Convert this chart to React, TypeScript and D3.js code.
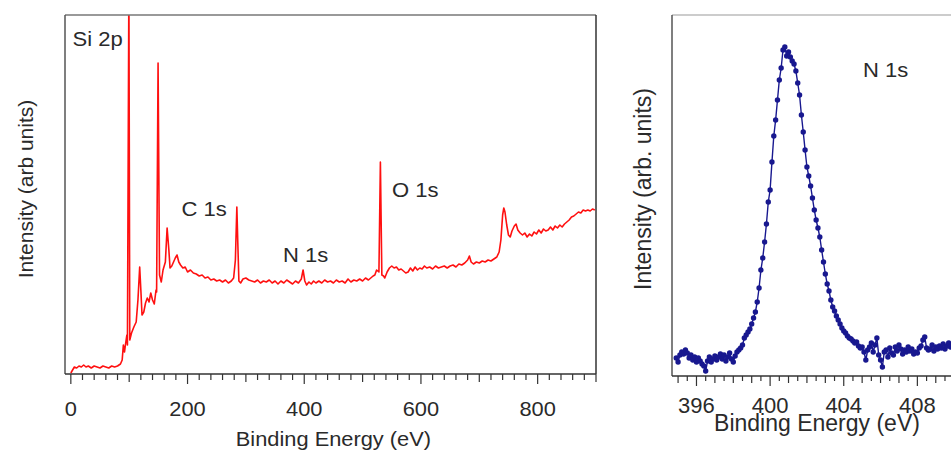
import React from "react";
import * as d3 from "d3";

// ---------- Survey spectrum (left) ----------
const SURVEY_E = [0,3,6,10,14,18,22,26,30,35,40,45,50,55,60,65,70,75,80,85,88,90,92,94,96,97,99.5,101,104,108,112,115,118,120,122,125,128,131,134,137,140,143,146,147,149.5,152,155,158,162,165,168,170,173,176,179,182,185,188,192,196,200,205,210,215,220,225,230,235,240,245,250,255,260,265,270,275,279,282,284.5,286,288,291,295,300,305,310,315,320,325,330,335,340,345,350,355,360,365,370,375,380,385,390,395,398,401,404,408,412,416,420,425,430,435,440,445,450,455,460,465,470,475,480,485,490,495,500,505,510,514,518,521,524,528,530.5,533,536,538,542,546,550,554,558,562,566,570,574,578,582,586,590,594,598,602,606,610,615,620,625,630,635,640,645,650,655,660,665,670,675,680,683,686,690,695,700,705,710,715,720,725,730,734,737,740,742,744,747,750,753,756,760,763,766,770,774,778,782,786,790,794,798,802,806,810,814,818,822,826,830,834,838,842,846,850,854,858,862,866,870,874,878,882,886,890,894,898];
const SURVEY_I = [1,4,7,6,8,7,9,7,8,6,8,7,6,8,7,6,8,7,8,10,14,29,22,31,39,29,394,34,41,47,52,74,107,84,59,62,71,76,72,81,74,70,84,82,311,99,92,104,112,146,124,106,108,112,116,119,112,109,106,107,102,104,101,100,98,99,96,97,94,95,93,94,92,94,91,93,96,114,167,134,93,91,95,96,94,93,92,94,91,93,92,94,91,93,90,93,91,94,92,90,93,91,95,104,93,89,92,90,93,91,93,91,94,92,93,91,94,92,93,91,95,92,94,93,95,93,96,94,96,98,99,104,102,212,99,98,96,102,106,108,106,107,104,105,103,101,102,106,103,107,104,106,105,108,106,107,105,108,106,107,108,106,108,109,107,110,109,111,114,118,112,110,112,111,113,112,114,113,115,117,122,134,159,166,162,149,139,137,143,148,150,144,141,139,141,137,140,138,142,140,144,141,145,143,144,147,144,148,146,149,147,150,152,154,157,158,160,162,161,164,163,164,163,165,164];
const SURVEY_TICKS = [0, 200, 400, 600, 800];
const SURVEY_PEAKS = ["Si 2p", "C 1s", "N 1s", "O 1s"];

// ---------- N 1s high-resolution spectrum (right) ----------
const N1S_START = 394.9;
const N1S_STEP = 0.1;
const N1S_I = [180,140,210,240,220,260,230,180,210,160,190,140,180,150,120,100,50,150,190,140,170,200,160,190,220,170,210,150,190,230,170,140,200,240,260,280,310,380,410,440,470,520,580,640,740,880,1060,1180,1340,1520,1740,1860,2140,2400,2560,2760,2960,3080,3260,3290,3200,3240,3190,3150,3120,3050,2930,2810,2610,2440,2260,2090,2000,1900,1780,1660,1560,1480,1390,1260,1140,1020,920,850,760,690,650,600,560,520,480,450,430,400,380,370,350,330,340,300,280,290,240,160,260,290,330,240,310,380,210,160,90,240,260,190,280,230,210,290,250,310,270,220,260,240,290,250,270,220,240,230,280,300,360,390,280,260,270,310,250,290,270,300,280,320,270,300,330,290,310,320,290,330];
const N1S_TICKS = [396, 400, 404, 408];

const FONT = "'Liberation Sans', Arial, Helvetica, sans-serif";

function T({ x, y, size, sx = 1, anchor = "start", rot = 0, children }: any) {
  const tr = `translate(${x},${y}) rotate(${rot}) scale(${sx},1)`;
  return (
    <text transform={tr} fontSize={size} textAnchor={anchor} fontFamily={FONT} fill="#2a2a2a">
      {children}
    </text>
  );
}

export default function App() {
  // Left panel geometry
  const L = { left: 65, right: 596, top: 15, bottom: 374 };
  const xs = d3.scaleLinear().domain([-10, 900]).range([L.left, L.right]);
  const ys = d3.scaleLinear().domain([0, 359]).range([L.bottom, L.top]);
  const survey = SURVEY_E.map((e, i) => [e, SURVEY_I[i]] as [number, number]);
  const surveyPath = d3.line<[number, number]>().x(d => xs(d[0])).y(d => ys(d[1]))(survey) || "";
  const sMinor = d3.range(0, 901, 20);

  // Right panel geometry
  const R = { left: 672, right: 991, top: 15, bottom: 376 };
  const xr = d3.scaleLinear().domain([394.67, 412]).range([R.left, R.right]);
  const yr = d3.scaleLinear().domain([0, 3610]).range([R.bottom, R.top]);
  const n1s = N1S_I.map((v, i) => [N1S_START + i * N1S_STEP, v] as [number, number]);
  const n1sPath = d3.line<[number, number]>().x(d => xr(d[0])).y(d => yr(d[1]))(n1s) || "";
  const rMinor = d3.range(395, 412.01, 0.5);

  const navy = "#18188f";

  return (
    <svg width={951} height={450} style={{ position: "absolute", left: 0, top: 0, background: "#fff" }}>
      <defs>
        <clipPath id="clipL"><rect x={L.left} y={L.top} width={L.right - L.left} height={L.bottom - L.top} /></clipPath>
        <clipPath id="clipR"><rect x={R.left} y={R.top} width={R.right - R.left} height={R.bottom - R.top} /></clipPath>
      </defs>

      {/* Left panel */}
      <path d={surveyPath} fill="none" stroke="#ff1010" strokeWidth={1.6} strokeLinejoin="round" clipPath="url(#clipL)" />
      <line x1={L.left} x2={L.right} y1={L.top} y2={L.top} stroke="#777" strokeWidth={1.5} />
      <line x1={L.left} x2={L.left} y1={L.top} y2={L.bottom} stroke="#555" strokeWidth={1.5} />
      <line x1={L.right} x2={L.right} y1={L.top} y2={L.bottom} stroke="#333" strokeWidth={1.5} />
      <line x1={L.left} x2={L.right} y1={L.bottom} y2={L.bottom} stroke="#333" strokeWidth={1.5} />
      {sMinor.map(v => {
        const len = v % 200 === 0 ? 10 : v % 100 === 0 ? 8 : 6;
        return <line key={"sm" + v} x1={xs(v)} x2={xs(v)} y1={L.bottom} y2={L.bottom + len} stroke="#333" strokeWidth={1.2} />;
      })}
      {SURVEY_TICKS.map(v => (
        <T key={"st" + v} x={xs(v)} y={416} size={19.5} sx={1.12} anchor="middle">{String(v)}</T>
      ))}
      <T x={(xs(0) + xs(900)) / 2} y={446} size={19.5} sx={1.12} anchor="middle">Binding Energy (eV)</T>
      <T x={33} y={189} size={21} rot={-90} anchor="middle">Intensity (arb units)</T>
      <T x={72.5} y={46} size={19.5} sx={1.13}>{SURVEY_PEAKS[0]}</T>
      <T x={181.5} y={216} size={19.5} sx={1.13}>{SURVEY_PEAKS[1]}</T>
      <T x={283} y={262} size={19.5} sx={1.13}>{SURVEY_PEAKS[2]}</T>
      <T x={392} y={197} size={19.5} sx={1.13}>{SURVEY_PEAKS[3]}</T>

      {/* Right panel */}
      <g clipPath="url(#clipR)">
        <path d={n1sPath} fill="none" stroke={navy} strokeWidth={1.4} />
        {n1s.map((d, i) => (
          <circle key={"p" + i} cx={xr(d[0])} cy={yr(d[1])} r={2.7} fill={navy} />
        ))}
      </g>
      <line x1={R.left} x2={R.right} y1={R.top} y2={R.top} stroke="#999" strokeWidth={1.2} />
      <line x1={R.left} x2={R.left} y1={R.top} y2={R.bottom} stroke="#555" strokeWidth={1.5} />
      <line x1={R.left} x2={R.right} y1={R.bottom} y2={R.bottom} stroke="#333" strokeWidth={1.5} />
      {rMinor.map(v => {
        const isMajor = Math.abs(v % 4) < 1e-6;
        const isMid = Math.abs(v % 1) < 1e-6;
        const len = isMajor ? 10 : isMid ? 7 : 5;
        return <line key={"rm" + v} x1={xr(v)} x2={xr(v)} y1={R.bottom} y2={R.bottom + len} stroke="#333" strokeWidth={1.2} />;
      })}
      {N1S_TICKS.map(v => (
        <T key={"rt" + v} x={xr(v)} y={413} size={22} anchor="middle">{String(v)}</T>
      ))}
      <T x={817} y={431} size={23} anchor="middle">Binding Energy (eV)</T>
      <T x={651} y={189} size={23} rot={-90} anchor="middle">Intensity (arb. units)</T>
      <T x={863} y={77} size={19.5} sx={1.13}>N 1s</T>
    </svg>
  );
}
